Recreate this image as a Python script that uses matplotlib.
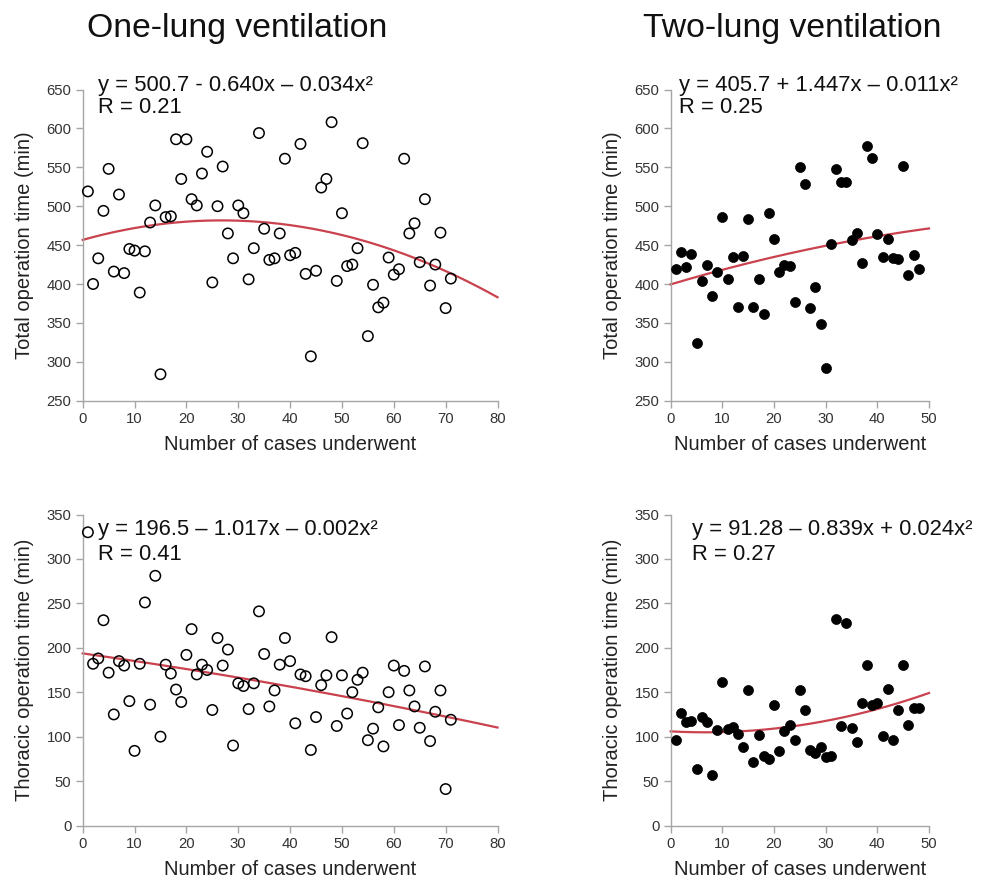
import numpy as np
import matplotlib
matplotlib.use("Agg")
import matplotlib.pyplot as plt

plt.rcParams['font.family'] = ['Liberation Sans', 'DejaVu Sans']

# ---------------- data ----------------
one_total = [519, 400, 433, 494, 548, 416, 515, 414, 445, 443, 389, 442, 479, 501, 284,
             486, 487, 586, 535, 586, 509, 501, 542, 570, 402, 500, 551, 465, 433, 501,
             491, 406, 446, 594, 471, 431, 433, 465, 561, 437, 440, 580, 413, 307, 417,
             524, 535, 608, 404, 491, 423, 425, 446, 581, 333, 399, 370, 376, 434, 412,
             419, 561, 465, 478, 428, 509, 398, 425, 466, 369, 407]
one_thor = [330, 182, 188, 231, 172, 125, 185, 180, 140, 84, 182, 251, 136, 281, 100,
            181, 171, 153, 139, 192, 221, 170, 181, 175, 130, 211, 180, 198, 90, 160,
            157, 131, 160, 241, 193, 134, 152, 181, 211, 185, 115, 170, 168, 85, 122,
            158, 169, 212, 112, 169, 126, 150, 164, 172, 96, 109, 133, 89, 150, 180,
            113, 174, 152, 134, 110, 179, 95, 128, 152, 41, 119]
two_total = [419, 441, 422, 439, 324, 404, 425, 384, 415, 486, 407, 435, 370, 436, 483,
             371, 407, 362, 491, 458, 415, 424, 423, 377, 550, 528, 369, 396, 348, 292,
             452, 548, 531, 531, 457, 465, 427, 578, 562, 464, 435, 458, 433, 432, 552,
             411, 437, 419]
two_thor = [96, 127, 116, 118, 64, 122, 117, 57, 108, 161, 109, 111, 103, 88, 152,
            71, 102, 78, 75, 136, 84, 106, 113, 96, 152, 130, 85, 82, 88, 77,
            78, 232, 112, 228, 110, 94, 138, 181, 136, 138, 101, 154, 96, 130, 181,
            113, 132, 132]
one_cases = np.arange(1, len(one_total) + 1)
two_cases = np.arange(1, len(two_total) + 1)

equations = ["y = 500.7 - 0.640x \u2013 0.034x\u00b2",
             "y = 405.7 + 1.447x \u2013 0.011x\u00b2",
             "y = 196.5 \u2013 1.017x \u2013 0.002x\u00b2",
             "y = 91.28 \u2013 0.839x + 0.024x\u00b2"]
r_labels = ["R = 0.21", "R = 0.25", "R = 0.41", "R = 0.27"]
titles = ["One-lung ventilation", "Two-lung ventilation"]
xlabel = "Number of cases underwent"
ylabels = ["Total operation time (min)", "Thoracic operation time (min)"]

# ---------------- figure ----------------
W, H = 987, 881
fig = plt.figure(figsize=(W / 100, H / 100), dpi=100)

RED = '#c9424e'
AX = '#a6a6a6'

def px_axes(l, t, r, b):
    return fig.add_axes([l / W, 1 - b / H, (r - l) / W, (b - t) / H])

ax1 = px_axes(82.7, 89.5, 497.5, 400.7)
ax2 = px_axes(670.7, 89.5, 929.0, 400.7)
ax3 = px_axes(82.7, 514.5, 497.5, 825.5)
ax4 = px_axes(670.7, 514.5, 929.0, 825.5)

panels = [
    (ax1, one_cases, one_total, False, 80, (250, 650), equations[0], r_labels[0], ylabels[0], (0.037, 0.995, 0.925)),
    (ax2, two_cases, two_total, True, 50, (250, 650), equations[1], r_labels[1], ylabels[0], (0.032, 0.995, 0.925)),
    (ax3, one_cases, one_thor, False, 80, (0, 350), equations[2], r_labels[2], ylabels[1], (0.037, 0.934, 0.854)),
    (ax4, two_cases, two_thor, True, 50, (0, 350), equations[3], r_labels[3], ylabels[1], (0.081, 0.934, 0.854)),
]

for ax, xs, ys, filled, xmax, ylim, eq, rl, yl, (tx, ty1, ty2) in panels:
    xs = np.asarray(xs, float)
    ys = np.asarray(ys, float)
    if filled:
        ax.scatter(xs, ys, s=52, color='black', edgecolors='black', linewidths=0.5, zorder=3, clip_on=False)
    else:
        ax.scatter(xs, ys, s=56, facecolors='none', edgecolors='black', linewidths=1.1, zorder=3, clip_on=False)
    coef = np.polyfit(xs, ys, 2)
    xx = np.linspace(0, xmax, 200)
    ax.plot(xx, np.polyval(coef, xx), color=RED, lw=1.6, zorder=2, clip_on=False)
    ax.set_xlim(0, xmax)
    ax.set_ylim(*ylim)
    ax.set_xticks(np.arange(0, xmax + 1, 10))
    ax.set_yticks(np.arange(ylim[0], ylim[1] + 1, 50))
    for s in ['top', 'right']:
        ax.spines[s].set_visible(False)
    for s in ['left', 'bottom']:
        ax.spines[s].set_color(AX)
        ax.spines[s].set_linewidth(1.0)
    ax.tick_params(axis='both', direction='out', length=5, width=1.0, color=AX,
                   labelsize=10.7, labelcolor='#333333', pad=3)
    ax.set_xlabel(xlabel, fontsize=14.5, color='#222222')
    ax.set_ylabel(yl, fontsize=14.5, color='#222222')
    wpx = ax.get_position().width * W
    hpx = ax.get_position().height * H
    ax.xaxis.set_label_coords(0.5, -34.5 / hpx)
    ax.yaxis.set_label_coords(-49.0 / wpx, 0.5)
    ax.text(tx, ty1, eq, transform=ax.transAxes, fontsize=15.8, color='#111111', ha='left', va='baseline')
    ax.text(tx, ty2, rl, transform=ax.transAxes, fontsize=15.8, color='#111111', ha='left', va='baseline')

fig.text(87 / W, 1 - 37 / H, titles[0], fontsize=24.3, color='#111111', ha='left', va='baseline')
fig.text(643 / W, 1 - 37 / H, titles[1], fontsize=24.3, color='#111111', ha='left', va='baseline')

fig.savefig('out.png', dpi=100)
